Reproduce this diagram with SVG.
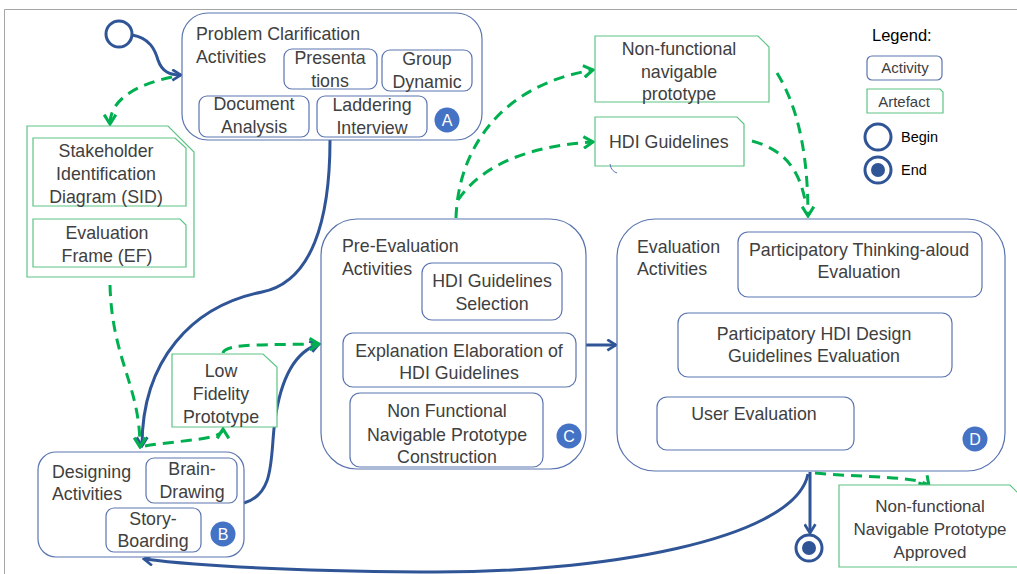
<svg xmlns="http://www.w3.org/2000/svg" width="1017" height="574" viewBox="0 0 1017 574">
  <style>
    text { font-family: "Liberation Sans", Arial, sans-serif; font-size: 17.8px; fill: #404040; }
    .c { text-anchor: middle; }
    .act { fill: #ffffff; stroke: #5a74b0; stroke-width: 1.2; }
    .art { fill: #ffffff; stroke: #5cc483; stroke-width: 1.2; }
    .badge { fill: #4472c4; }
    .badge-t { fill: #ffffff; font-size: 16px; text-anchor: middle; }
    .flow { fill: none; stroke: #2f5597; stroke-width: 3; }
    .data { fill: none; stroke: #00b050; stroke-width: 3; stroke-dasharray: 11 7; }
    .ring { fill: #ffffff; stroke: #2f5597; stroke-width: 3; }
    .leg { fill: #000000; }
  </style>
  <defs>
    <marker id="ab" viewBox="0 0 12 12" refX="10" refY="6" markerWidth="13" markerHeight="13" markerUnits="userSpaceOnUse" orient="auto">
      <path d="M2,1 L10,6 L2,11" fill="none" stroke="#2f5597" stroke-width="2.5"/>
    </marker>
    <marker id="ag" viewBox="0 0 12 12" refX="10" refY="6" markerWidth="14" markerHeight="14" markerUnits="userSpaceOnUse" orient="auto">
      <path d="M2,1 L10,6 L2,11" fill="none" stroke="#00b050" stroke-width="2.6"/>
    </marker>
  </defs>

  <rect width="1017" height="574" fill="#ffffff"/>
  <!-- page frame -->
  <polyline points="4.5,574 4.5,9.5 1017,9.5" fill="none" stroke="#a6a6a6" stroke-width="1"/>

  <!-- connectors -->
  <g id="connectors">
    <path class="flow" d="M132,35 C150,38 155,50 158,60 C162,72 170,75 181,75" marker-end="url(#ab)"/>
    <path class="flow" d="M330,140 C330,220 312,282 262,292 C192,306 142,360 142,446" marker-end="url(#ab)"/>
    <path class="flow" d="M244,503 C276,494 270,455 275,420 C282,370 300,350 319,344" marker-end="url(#ab)"/>
    <path class="flow" d="M586,345 L616,345" marker-end="url(#ab)"/>
    <path class="flow" d="M810,472 L810,533" marker-end="url(#ab)"/>
    <path class="flow" d="M808,474 C795,540 600,574 420,572 C300,571 200,566 144,559" marker-end="url(#ab)"/>

    <path class="data" d="M172,77 C135,85 110,100 110,124" marker-end="url(#ag)"/>
    <path class="data" d="M110,285 C112,360 140,385 140,447" marker-end="url(#ag)"/>
    <path class="data" d="M145,446 C180,440 223,440 223,429" marker-end="url(#ag)"/>
    <path class="data" d="M223,353 C225,343 270,345 319,344" marker-end="url(#ag)"/>
    <path class="data" d="M456,218 C458,150 500,85 593,70" marker-end="url(#ag)"/>
    <path class="data" d="M458,200 C485,160 540,145 593,142" marker-end="url(#ag)"/>
    <path class="data" d="M777,73 C800,110 808,160 808,216" marker-end="url(#ag)"/>
    <path class="data" d="M752,141 C785,150 800,170 806,205"/>
    <path class="data" d="M815,473 C870,478 920,476 929,486" marker-end="url(#ag)"/>
  </g>

  <!-- start / end markers -->
  <g id="begin"><circle class="ring" cx="119" cy="34" r="13"/></g>
  <g id="end">
    <circle class="ring" cx="809" cy="548" r="13"/>
    <circle cx="809" cy="548" r="7" fill="#2f5597"/>
  </g>

  <!-- A: problem clarification -->
  <g id="node-a">
    <rect class="act" x="182" y="13" width="300" height="127" rx="26"/>
    <text x="196" y="40">Problem Clarification</text>
    <text x="196" y="63">Activities</text>
    <rect class="act" x="284" y="49" width="93" height="40" rx="8"/>
    <text class="c" x="330" y="64">Presenta</text>
    <text class="c" x="330" y="87">tions</text>
    <rect class="act" x="382" y="50" width="90" height="41" rx="8"/>
    <text class="c" x="427" y="65">Group</text>
    <text class="c" x="427" y="88">Dynamic</text>
    <rect class="act" x="199" y="96" width="110" height="41" rx="8"/>
    <text class="c" x="254" y="110">Document</text>
    <text class="c" x="254" y="133">Analysis</text>
    <rect class="act" x="317" y="96" width="110" height="41" rx="8"/>
    <text class="c" x="372" y="111">Laddering</text>
    <text class="c" x="372" y="134">Interview</text>
    <circle class="badge" cx="447" cy="120" r="12.5"/>
    <text class="badge-t" x="447" y="126">A</text>
  </g>

  <!-- SID / EF artefacts -->
  <g id="artefact-sid-ef">
    <path class="art" d="M27,126 H168 L194,152 V277 H27 Z"/>
    <path class="art" d="M33,138 H175 L186,148 V206 H33 Z"/>
    <text class="c" x="106" y="157">Stakeholder</text>
    <text class="c" x="106" y="180">Identification</text>
    <text class="c" x="106" y="203">Diagram (SID)</text>
    <path class="art" d="M33,219 H180 L186,225 V267 H33 Z"/>
    <text class="c" x="107" y="239">Evaluation</text>
    <text class="c" x="107" y="262">Frame (EF)</text>
  </g>

  <!-- Low fidelity prototype artefact -->
  <g id="artefact-lfp">
    <path class="art" d="M172,354 H263 L277,367 V427 H172 Z"/>
    <text class="c" x="221" y="377">Low</text>
    <text class="c" x="221" y="400">Fidelity</text>
    <text class="c" x="221" y="423">Prototype</text>
  </g>

  <!-- B: designing -->
  <g id="node-b">
    <rect class="act" x="38" y="452" width="206" height="105" rx="18"/>
    <text x="52" y="478">Designing</text>
    <text x="52" y="500">Activities</text>
    <rect class="act" x="146" y="458" width="91" height="45" rx="8"/>
    <text class="c" x="192" y="475">Brain-</text>
    <text class="c" x="192" y="498">Drawing</text>
    <rect class="act" x="106" y="508" width="95" height="44" rx="8"/>
    <text class="c" x="153" y="525">Story-</text>
    <text class="c" x="153" y="547">Boarding</text>
    <circle class="badge" cx="223" cy="534" r="12.5"/>
    <text class="badge-t" x="223" y="540">B</text>
  </g>

  <!-- C: pre-evaluation -->
  <g id="node-c">
    <rect class="act" x="321" y="219" width="265" height="250" rx="36"/>
    <text x="342" y="252">Pre-Evaluation</text>
    <text x="342" y="275">Activities</text>
    <rect class="act" x="422" y="263" width="140" height="57" rx="10"/>
    <text class="c" x="492" y="287">HDI Guidelines</text>
    <text class="c" x="492" y="310">Selection</text>
    <rect class="act" x="343" y="333" width="233" height="54" rx="10"/>
    <text class="c" x="459" y="357">Explanation Elaboration of</text>
    <text class="c" x="459" y="379">HDI Guidelines</text>
    <rect class="act" x="350" y="393" width="193" height="74" rx="10"/>
    <text class="c" x="447" y="417">Non Functional</text>
    <text class="c" x="447" y="441">Navigable Prototype</text>
    <text class="c" x="447" y="463">Construction</text>
    <circle class="badge" cx="569" cy="436" r="12.5"/>
    <text class="badge-t" x="569" y="442">C</text>
  </g>

  <!-- top artefacts -->
  <g id="artefact-nfnp">
    <path class="art" d="M595,36 H758 L769,47 V102 H595 Z"/>
    <text class="c" x="679" y="55">Non-functional</text>
    <text class="c" x="679" y="78">navigable</text>
    <text class="c" x="679" y="100">prototype</text>
  </g>
  <g id="artefact-hdi">
    <path class="art" d="M595,117 H737 L744,124 V166 H595 Z"/>
    <text x="609" y="148">HDI Guidelines</text>
    <path d="M610,164 Q611,171 617,173" fill="none" stroke="#5a74b0" stroke-width="1"/>
  </g>

  <!-- D: evaluation -->
  <g id="node-d">
    <rect class="act" x="617" y="219" width="388" height="252" rx="38"/>
    <text x="637" y="253">Evaluation</text>
    <text x="637" y="275">Activities</text>
    <rect class="act" x="738" y="232" width="244" height="65" rx="10"/>
    <text class="c" x="859" y="256">Participatory Thinking-aloud</text>
    <text class="c" x="859" y="278">Evaluation</text>
    <rect class="act" x="678" y="313" width="274" height="64" rx="10"/>
    <text class="c" x="814" y="340">Participatory HDI Design</text>
    <text class="c" x="814" y="362">Guidelines Evaluation</text>
    <rect class="act" x="657" y="397" width="197" height="53" rx="10"/>
    <text class="c" x="754" y="420">User Evaluation</text>
    <circle class="badge" cx="975" cy="439" r="12.5"/>
    <text class="badge-t" x="975" y="445">D</text>
  </g>

  <!-- approved artefact -->
  <g id="artefact-approved" style="font-size:17px">
    <path class="art" d="M839,485 H1010 L1020,495 V567 H839 Z"/>
    <text class="c" x="930" y="512" style="font-size:17px">Non-functional</text>
    <text class="c" x="930" y="535" style="font-size:17px">Navigable Prototype</text>
    <text class="c" x="930" y="558" style="font-size:17px">Approved</text>
  </g>

  <!-- legend -->
  <g id="legend">
    <text class="leg" x="872" y="41" style="font-size:16.5px">Legend:</text>
    <rect class="act" x="867" y="56" width="75" height="24" rx="5"/>
    <text class="c" x="905" y="73" style="font-size:15px">Activity</text>
    <path class="art" d="M867,89 H940 L943,92 V113 H867 Z"/>
    <text class="c" x="904" y="107" style="font-size:15px">Artefact</text>
    <circle class="ring" cx="878" cy="137" r="13"/>
    <text class="leg" x="901" y="142" style="font-size:14.5px">Begin</text>
    <circle class="ring" cx="878" cy="170" r="13"/>
    <circle cx="878" cy="170" r="7" fill="#2f5597"/>
    <text class="leg" x="901" y="175" style="font-size:14.5px">End</text>
  </g>
</svg>
